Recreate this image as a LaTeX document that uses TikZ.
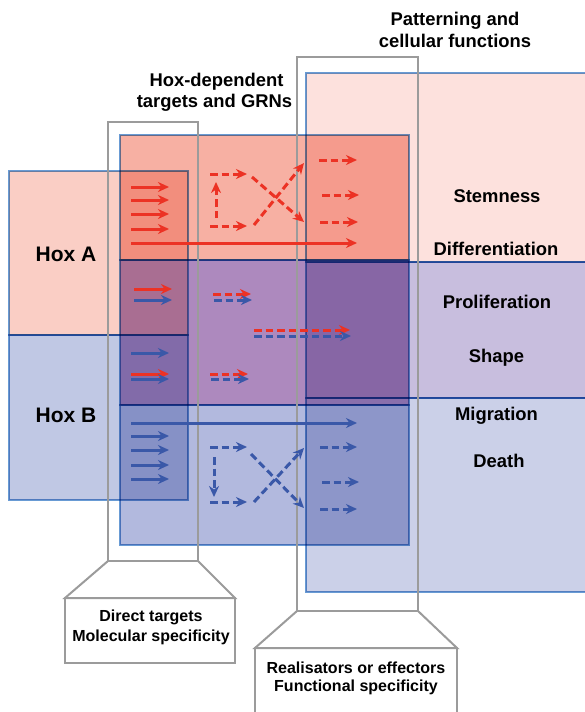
\documentclass[tikz,border=0pt]{standalone}
\usepackage{fontspec}
\setmainfont{Liberation Sans}
\usetikzlibrary{arrows.meta}

\definecolor{fnPink}{RGB}{253,225,221}
\definecolor{fnLilac}{RGB}{200,190,222}
\definecolor{fnBlue}{RGB}{203,208,232}
\definecolor{grnRed}{RGB}{247,176,163}
\definecolor{grnPurple}{RGB}{173,137,190}
\definecolor{grnBlue}{RGB}{178,185,222}
\definecolor{hoxPink}{RGB}{250,206,197}
\definecolor{hoxBlue}{RGB}{192,200,228}
\definecolor{edgeBlue}{RGB}{105,155,212}
\definecolor{frameGray}{RGB}{155,155,155}
\definecolor{arRed}{RGB}{236,50,36}
\definecolor{arBlue}{RGB}{58,88,168}

\tikzset{
  box/.style={draw=edgeBlue, line width=1.6pt},
  frame/.style={draw=frameGray, line width=2pt},
  arrowHead/.style={-{Stealth[length=11pt,width=10pt,inset=3.5pt]}},
  redArrow/.style={draw=arRed, line width=3pt, arrowHead},
  blueArrow/.style={draw=arBlue, line width=3pt, arrowHead},
  redDash/.style={redArrow, dash pattern=on 7.5pt off 4pt},
  blueDash/.style={blueArrow, dash pattern=on 7.5pt off 4pt},
  lbl/.style={anchor=base, inner sep=0pt, font=\bfseries\fontsize{18.4}{22}\selectfont},
  hoxlbl/.style={lbl, font=\bfseries\fontsize{21}{25}\selectfont},
  boxlbl/.style={lbl, font=\bfseries\fontsize{16}{19}\selectfont}
}

\begin{document}
\begin{tikzpicture}[x=1pt,y=-1pt]
  \useasboundingbox (0,0) rectangle (585,712);

  % coloured blocks, multiplied where they overlap
  \begin{scope}[blend mode=multiply]
    \filldraw[box, fill=fnPink] (306,73) rectangle (600,262);
    \filldraw[box, fill=fnLilac] (306,262) rectangle (600,398);
    \filldraw[box, fill=fnBlue] (306,398) rectangle (600,592);
    \filldraw[box, fill=grnRed] (120,135) rectangle (409,260);
    \filldraw[box, fill=grnPurple] (120,260) rectangle (409,405);
    \filldraw[box, fill=grnBlue] (120,405) rectangle (409,545);
    \filldraw[box, fill=hoxPink] (9,171) rectangle (188,335);
    \filldraw[box, fill=hoxBlue] (9,335) rectangle (188,500);
  \end{scope}

  % grey columns and their boxes
  \draw[frame] (108,122) rectangle (198,561);
  \draw[frame] (108,561) -- (65,598) -- (235,598) -- (198,561);
  \draw[frame] (65,598) rectangle (235,663);
  \draw[frame] (297,57) rectangle (418,611);
  \draw[frame] (297,611) -- (255,648) -- (457,648) -- (418,611);
  \draw[frame] (255,720) -- (255,648) -- (457,648) -- (457,720);

  % Hox A arrows
  \foreach \y in {187,200,214,229}
    \draw[redArrow] (131,\y) -- (169,\y);
  \draw[redArrow] (131,243) -- (357,243);
  \draw[redDash] (210,174) -- (247,174);
  \draw[redDash] (216,218) -- (216,182);
  \draw[redDash] (210,226) -- (247,226);
  \draw[redDash] (252,177) -- (304,222);
  \draw[redDash] (254,225) -- (304,163);
  \draw[redDash] (319,160) -- (357,160);
  \draw[redDash] (322,195) -- (359,195);
  \draw[redDash] (320,222) -- (358,222);

  % shared arrows
  \draw[redArrow] (134,289) -- (172,289);
  \draw[blueArrow] (134,300) -- (172,300);
  \draw[redDash] (213,294) -- (251,294);
  \draw[blueDash] (214,300) -- (252,300);
  \draw[redDash] (254,330) -- (350,330);
  \draw[blueDash] (254,336) -- (351,336);
  \draw[blueArrow] (131,353) -- (169,353);
  \draw[redArrow] (131,374) -- (169,374);
  \draw[blueArrow] (131,379) -- (169,379);
  \draw[redDash] (210,374) -- (248,374);
  \draw[blueDash] (211,379) -- (249,379);

  % Hox B arrows
  \draw[blueArrow] (131,423) -- (357,423);
  \foreach \y in {436,450,465,479}
    \draw[blueArrow] (131,\y) -- (169,\y);
  \draw[blueDash] (210,447) -- (247,447);
  \draw[blueDash] (214,457) -- (214,497);
  \draw[blueDash] (210,502) -- (247,502);
  \draw[blueDash] (251,454) -- (304,508);
  \draw[blueDash] (254,502) -- (304,448);
  \draw[blueDash] (320,447) -- (357,447);
  \draw[blueDash] (322,482) -- (359,482);
  \draw[blueDash] (320,509) -- (357,509);

  % labels
  \node[lbl] (grnTop) at (216.5,86.5) {Hox-dependent};
  \node[lbl] (grnBot) at (214.5,107.5) {targets and GRNs};
  \node[lbl] (fnTop) at (455,25) {Patterning and};
  \node[lbl] (fnBot) at (455,47) {cellular functions};
  \node[hoxlbl] (hoxA) at (66,261) {Hox A};
  \node[hoxlbl] (hoxB) at (66,422.5) {Hox B};
  \node[lbl] (stem) at (497,202) {Stemness};
  \node[lbl] (diff) at (496,255) {Differentiation};
  \node[lbl] (prolif) at (497,308) {Proliferation};
  \node[lbl] (shape) at (496.5,362) {Shape};
  \node[lbl] (migr) at (496.5,420) {Migration};
  \node[lbl] (death) at (499,467) {Death};
  \node[boxlbl] (directA) at (151,621.5) {Direct targets};
  \node[boxlbl] (directB) at (151,641) {Molecular specificity};
  \node[boxlbl] (effectA) at (356,673) {Realisators or effectors};
  \node[boxlbl] (effectB) at (356,691.5) {Functional specificity};
\end{tikzpicture}
\end{document}
